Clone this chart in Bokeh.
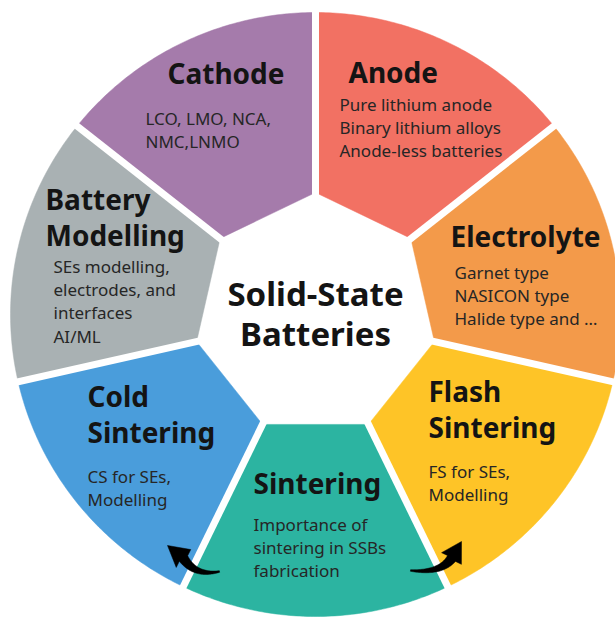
import numpy as np
from bokeh.plotting import figure
from bokeh.models import Range1d
from bokeh.core.properties import value
from bokeh.embed import file_html
from bokeh.resources import INLINE

# ---------------- data ----------------
topics = ["Cathode", "Battery Modelling", "Cold Sintering", "Sintering",
          "Flash Sintering", "Electrolyte", "Anode"]
colors = ["#A57BAB", "#A9B1B3", "#4A9DDB", "#2CB4A1", "#FEC427", "#F39A4A", "#F27163"]
title_lines = [["Cathode"], ["Battery", "Modelling"], ["Cold", "Sintering"], ["Sintering"],
               ["Flash", "Sintering"], ["Electrolyte"], ["Anode"]]
detail_lines = [["LCO, LMO, NCA,", "NMC,LNMO"],
                ["SEs modelling,", "electrodes, and", "interfaces", "AI/ML"],
                ["CS for SEs,", "Modelling"],
                ["Importance of", "sintering in SSBs", "fabrication"],
                ["FS for SEs,", "Modelling"],
                ["Garnet type", "NASICON type", "Halide type and \u2026"],
                ["Pure lithium anode", "Binary lithium alloys", "Anode-less batteries"]]
center_lines = ["Solid-State", "Batteries"]

# ---------------- layout (image pixel coordinates, y downward) ----------------
CX, CY = 315.0, 314.0
RX, RY = 305.0, 302.0
R_IN = 122.0
START_DEG = 90.0
GAP = 7
title_pos = [(167, 82), (45, 208), (87, 405), (253, 492), (428, 400), (450, 245), (348, 81)]
detail_pos = [(145, 124), (53, 272), (87, 482), (253, 530), (428, 477), (454, 278), (339, 110)]
TITLE_STEP = 36
DETAIL_STEP = 23.2
center_pos = [(315, 305), (315, 345)]
TITLE_SIZE, DETAIL_SIZE, CENTER_SIZE = 28, 17, 33
FONT = "Noto Sans"
BASE_FIX = 0.35  # empirical baseline correction (fraction of font size)

W, H = 615, 621
p = figure(width=W, height=H, output_backend="svg", toolbar_location=None,
           x_range=Range1d(0, W), y_range=Range1d(H, 0),
           min_border=0, border_fill_color="white", background_fill_color="white")
p.axis.visible = False
p.xgrid.visible = False
p.ygrid.visible = False
p.outline_line_color = None

n = len(topics)
step = 360.0 / n

def pt(r_x, r_y, deg):
    a = np.deg2rad(deg)
    return CX + r_x * np.cos(a), CY - r_y * np.sin(a)

xs, ys = [], []
for k in range(n):
    a1 = START_DEG + k * step
    a2 = a1 + step
    ang = np.linspace(a1, a2, 80)
    ox, oy = pt(RX, RY, ang)
    ix2, iy2 = pt(R_IN, R_IN, a2)
    ix1, iy1 = pt(R_IN, R_IN, a1)
    xs.append(list(ox) + [ix2, ix1])
    ys.append(list(oy) + [iy2, iy1])
p.patches(xs=xs, ys=ys, fill_color=colors, line_color=colors, line_width=0.5)

# white separators
sx0, sy0, sx1, sy1 = [], [], [], []
for k in range(n):
    a = START_DEG + k * step
    x0, y0 = pt(R_IN - 10, R_IN - 10, a)
    x1, y1 = pt(RX + 20, RY + 20, a)
    sx0.append(x0); sy0.append(y0); sx1.append(x1); sy1.append(y1)
p.segment(x0=sx0, y0=sy0, x1=sx1, y1=sy1, line_color="white", line_width=GAP)

# curved arrows (tail, control, head-base, tip)
arrows = [((219, 571), (195, 576), (183, 558), (167, 545)),
          ((410, 570), (440, 573), (451, 558), (461, 541))]

def arrow_poly(tail, ctrl, base, tip):
    t = np.linspace(0, 1, 40)
    P0, P1, P2 = map(np.array, (tail, ctrl, base))
    B = ((1 - t) ** 2)[:, None] * P0 + (2 * (1 - t) * t)[:, None] * P1 + (t ** 2)[:, None] * P2
    D = (2 * (1 - t))[:, None] * (P1 - P0) + (2 * t)[:, None] * (P2 - P1)
    D = D / np.linalg.norm(D, axis=1)[:, None]
    Nn = np.stack([-D[:, 1], D[:, 0]], axis=1)
    w = 0.8 + 4.2 * t
    left = B + Nn * w[:, None]
    right = B - Nn * w[:, None]
    tipv = np.array(tip, float)
    base_v = np.array(base, float)
    d = tipv - base_v
    d = d / np.linalg.norm(d)
    nrm = np.array([-d[1], d[0]])
    hw = 11.5
    h1 = base_v + nrm * hw
    h2 = base_v - nrm * hw
    poly = np.vstack([left, h1, tipv, h2, right[::-1]])
    return list(poly[:, 0]), list(poly[:, 1])

axs, ays = [], []
for a in arrows:
    X, Y = arrow_poly(*a)
    axs.append(X); ays.append(Y)
p.patches(xs=axs, ys=ays, fill_color="black", line_color="black", line_width=0.5)

# texts
tx, ty, tt = [], [], []
dx, dy, dt = [], [], []
for k in range(n):
    for j, s in enumerate(title_lines[k]):
        tx.append(title_pos[k][0])
        ty.append(title_pos[k][1] + j * TITLE_STEP - BASE_FIX * TITLE_SIZE)
        tt.append(s)
    for j, s in enumerate(detail_lines[k]):
        dx.append(detail_pos[k][0])
        dy.append(detail_pos[k][1] + j * DETAIL_STEP - BASE_FIX * DETAIL_SIZE)
        dt.append(s)

p.text(x=tx, y=ty, text=tt, text_font=value(FONT), text_font_style="bold",
       text_font_size=f"{TITLE_SIZE}px", text_color="#141414",
       text_align="left", text_baseline="alphabetic")
p.text(x=dx, y=dy, text=dt, text_font=value(FONT), text_font_size=f"{DETAIL_SIZE}px",
       text_color="#262626", text_align="left", text_baseline="alphabetic")
p.text(x=[c[0] for c in center_pos],
       y=[c[1] - BASE_FIX * CENTER_SIZE for c in center_pos], text=center_lines,
       text_font=value(FONT), text_font_style="bold", text_font_size=f"{CENTER_SIZE}px",
       text_color="#141414", text_align="center", text_baseline="alphabetic")

open("out.html", "w").write(file_html(p, INLINE))
